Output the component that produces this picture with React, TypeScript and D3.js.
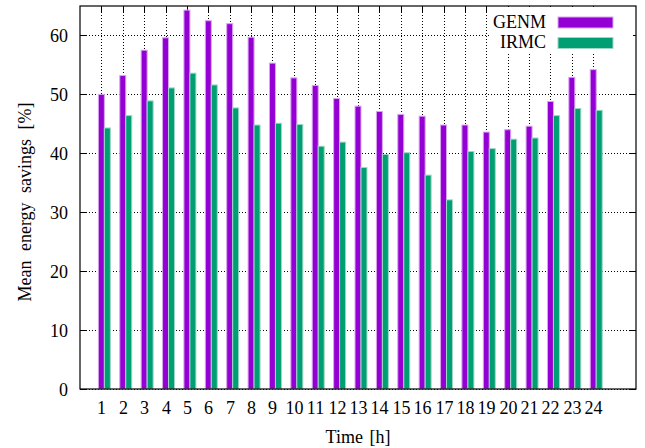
import React from "react";
import * as d3 from "d3";

// hours of the day
const hours = [1, 2, 3, 4, 5, 6, 7, 8, 9, 10, 11, 12, 13, 14, 15, 16, 17, 18, 19, 20, 21, 22, 23, 24];
// mean energy savings [%]
const genm = [50.0, 53.2, 57.5, 59.6, 64.3, 62.5, 62.0, 59.7, 55.3, 52.8, 51.5, 49.3, 48.0, 47.1, 46.6, 46.3, 44.8, 44.8, 43.6, 44.0, 44.6, 48.8, 52.9, 54.2];
const irmc = [44.3, 46.4, 48.9, 51.1, 53.6, 51.6, 47.7, 44.8, 45.1, 44.9, 41.2, 41.9, 37.6, 39.8, 40.1, 36.3, 32.1, 40.3, 40.8, 42.4, 42.6, 46.4, 47.6, 47.3];
const yTicks = [0, 10, 20, 30, 40, 50, 60];
const seriesNames = ["GENM", "IRMC"];
const colors = ["#9400d3", "#009e73"];
const borderColors = ["#d8a6f0", "#9fd8c4"];

export default function App() {
    const ref = React.useRef(null);

    React.useEffect(() => {
        const svg = d3.select(ref.current);
        svg.selectAll("*").remove();

        const left = 80, right = 636, top = 6, bottom = 389;
        const font = "'Liberation Serif', 'Times New Roman', serif";
        const fs = 18;

        const x = d3.scaleLinear().domain([0, 26]).range([left, right]);
        const y = d3.scaleLinear().domain([0, 65]).range([bottom, top]);

        // grid
        const grid = svg.append("g");
        yTicks.forEach((t) => {
            grid.append("line")
                .attr("x1", left).attr("x2", right)
                .attr("y1", Math.round(y(t)) + 0.5).attr("y2", Math.round(y(t)) + 0.5)
                .attr("stroke", "#000").attr("stroke-width", 1)
                .attr("stroke-dasharray", "1,2");
        });
        hours.forEach((h) => {
            grid.append("line")
                .attr("x1", Math.round(x(h)) + 0.5).attr("x2", Math.round(x(h)) + 0.5)
                .attr("y1", top).attr("y2", bottom)
                .attr("stroke", "#000").attr("stroke-width", 1)
                .attr("stroke-dasharray", "1,2");
        });

        // ticks (inward, mirrored)
        const tickLen = 7;
        yTicks.forEach((t) => {
            const yy = Math.round(y(t)) + 0.5;
            svg.append("line").attr("x1", left).attr("x2", left + tickLen)
                .attr("y1", yy).attr("y2", yy).attr("stroke", "#000");
            svg.append("line").attr("x1", right - tickLen).attr("x2", right)
                .attr("y1", yy).attr("y2", yy).attr("stroke", "#000");
            svg.append("text")
                .attr("x", left - 12).attr("y", yy + 6)
                .attr("text-anchor", "end")
                .attr("font-family", font).attr("font-size", fs)
                .text(t);
        });
        hours.forEach((h) => {
            const xx = Math.round(x(h)) + 0.5;
            svg.append("line").attr("x1", xx).attr("x2", xx)
                .attr("y1", top).attr("y2", top + tickLen).attr("stroke", "#000");
            svg.append("line").attr("x1", xx).attr("x2", xx)
                .attr("y1", bottom - tickLen).attr("y2", bottom).attr("stroke", "#000");
            svg.append("text")
                .attr("x", xx).attr("y", 414)
                .attr("text-anchor", "middle")
                .attr("font-family", font).attr("font-size", fs)
                .text(h);
        });

        // bars
        const barW = 0.28;
        [genm, irmc].forEach((vals, s) => {
            svg.append("g")
                .selectAll("rect")
                .data(vals)
                .join("rect")
                .attr("x", (d, i) => x(hours[i] - barW / 2 + s * barW))
                .attr("y", (d) => y(d))
                .attr("width", x(barW) - x(0))
                .attr("height", (d) => y(0) - y(d))
                .attr("fill", colors[s])
                .attr("stroke", borderColors[s])
                .attr("stroke-width", 1);
        });

        // legend box
        svg.append("rect")
            .attr("x", 489).attr("y", top + 1)
            .attr("width", 144).attr("height", 46)
            .attr("fill", "#fff");
        seriesNames.forEach((name, i) => {
            const cy = 22.5 + i * 20.5;
            svg.append("text")
                .attr("x", 546).attr("y", cy + 5)
                .attr("text-anchor", "end")
                .attr("font-family", font).attr("font-size", fs)
                .text(name);
            svg.append("rect")
                .attr("x", 558).attr("y", cy - 5.5)
                .attr("width", 55).attr("height", 11)
                .attr("fill", colors[i])
                .attr("stroke", borderColors[i]);
        });

        // frame
        svg.append("rect")
            .attr("x", left).attr("y", top)
            .attr("width", right - left).attr("height", bottom - top)
            .attr("fill", "none").attr("stroke", "#000").attr("stroke-width", 1.2);

        // axis titles
        svg.append("text")
            .attr("transform", `translate(31,202) rotate(-90)`)
            .attr("text-anchor", "middle")
            .attr("font-family", font).attr("font-size", fs)
            .attr("word-spacing", 5)
            .text("Mean energy savings [%]");
        svg.append("text")
            .attr("x", (left + right) / 2).attr("y", 443)
            .attr("text-anchor", "middle")
            .attr("font-family", font).attr("font-size", fs)
            .attr("word-spacing", 2)
            .text("Time [h]");
    }, []);

    return (
        <svg
            ref={ref}
            width={645}
            height={448}
            style={{ position: "absolute", left: 0, top: 0, background: "#fff" }}
        />
    );
}
